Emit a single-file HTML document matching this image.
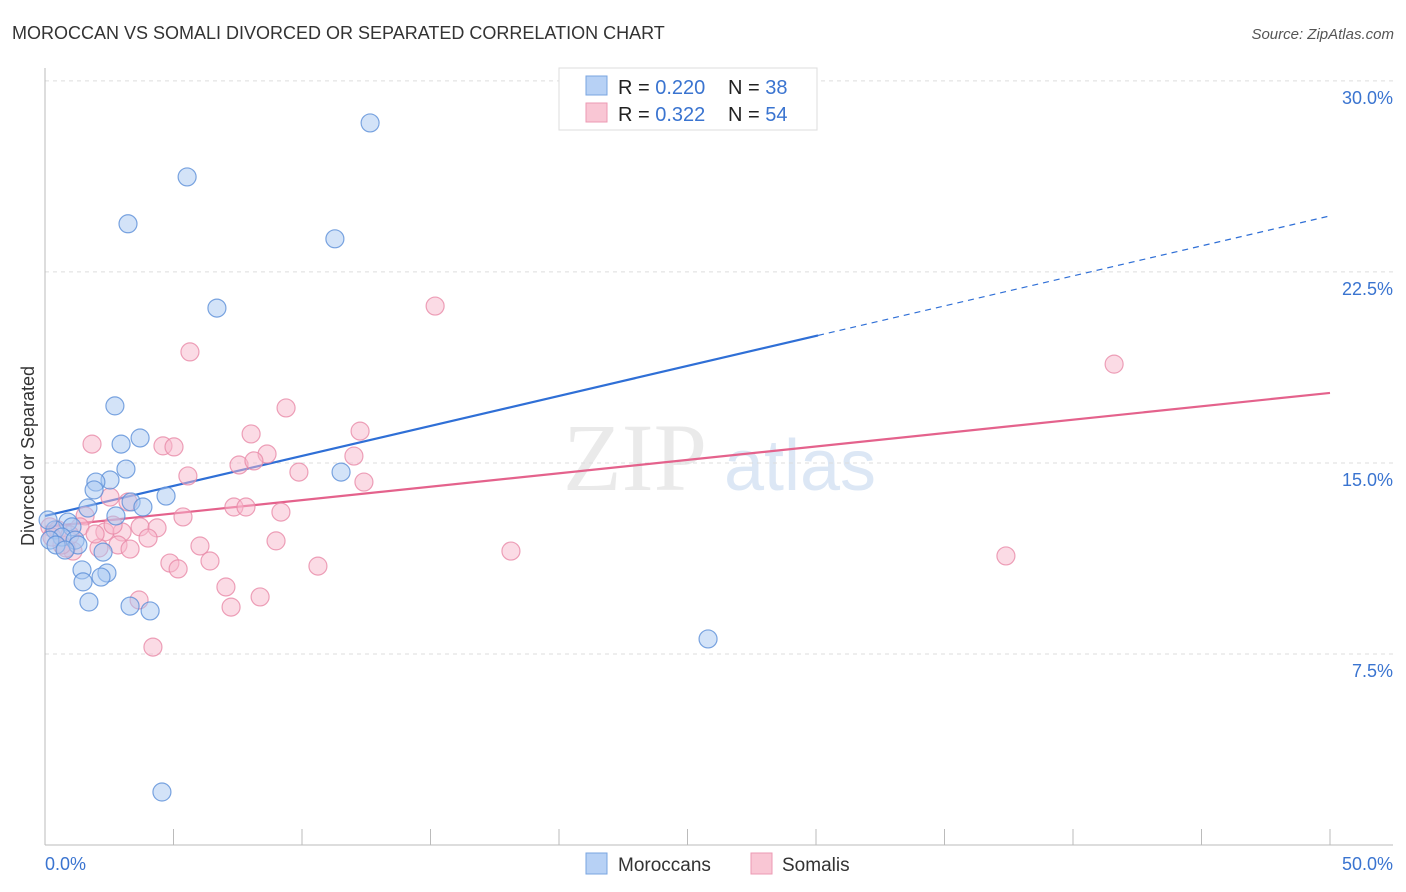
<!DOCTYPE html>
<html><head><meta charset="utf-8"><style>
body{margin:0;background:#fff;font-family:"Liberation Sans",sans-serif;}
svg{display:block}
</style></head><body>
<svg id="chart" width="1406" height="892" xmlns="http://www.w3.org/2000/svg">
<text x="12" y="39" font-size="18" fill="#333">MOROCCAN VS SOMALI DIVORCED OR SEPARATED CORRELATION CHART</text>
<text x="1394" y="39" font-size="15" fill="#555" font-style="italic" text-anchor="end">Source: ZipAtlas.com</text>
<text x="34" y="456" font-size="18" fill="#333" text-anchor="middle" transform="rotate(-90 34 456)">Divorced or Separated</text>
<g>
<text x="635" y="490" font-size="96" fill="#ddd" font-family="Liberation Serif,serif" text-anchor="middle" opacity="0.6">ZIP</text>
<text x="800" y="490" font-size="72" fill="#c5d8f0" text-anchor="middle" opacity="0.6">atlas</text>
</g>
<g id="grid"></g><g id="axes"></g><g id="trends"></g><g id="pts"></g>
<g>
<rect x="559" y="68" width="258" height="62" fill="#fff" stroke="#ddd"/>
<rect x="586" y="76" width="21" height="19" fill="#b7d1f5" stroke="#7aa5e0"/>
<rect x="586" y="103" width="21" height="19" fill="#f9c6d4" stroke="#ec9ab3"/>
<text x="618" y="94" font-size="20" fill="#222">R = <tspan fill="#3a74d0">0.220</tspan><tspan x="728">N = </tspan><tspan fill="#3a74d0">38</tspan></text>
<text x="618" y="121" font-size="20" fill="#222">R = <tspan fill="#3a74d0"> 0.322</tspan><tspan x="728">N = </tspan><tspan fill="#3a74d0">54</tspan></text>
</g>
<g>
<rect x="586" y="853" width="21" height="21" fill="#b7d1f5" stroke="#7aa5e0"/>
<text x="618" y="871" font-size="19" fill="#333">Moroccans</text>
<rect x="751" y="853" width="21" height="21" fill="#f9c6d4" stroke="#ec9ab3"/>
<text x="782" y="871" font-size="19" fill="#333">Somalis</text>
</g>
</svg>
<script>
const yTicks=[7.5,15,22.5,30];
const yTickLabels=["7.5%","15.0%","22.5%","30.0%"];
const xTickLabels=["0.0%","50.0%"];
const moroccanX=[12.65,5.53,3.23,11.28,6.69,2.72,3.70,2.96,3.15,2.53,1.98,1.91,4.71,3.35,3.81,1.67,2.76,0.89,1.05,0.39,0.66,1.17,0.19,0.43,1.28,0.78,2.26,1.44,2.41,1.48,2.18,1.71,3.31,4.09,25.80,4.55,11.52,0.12];
const moroccanY=[28.35,26.23,24.39,23.80,21.08,17.24,15.98,15.74,14.76,14.33,14.25,13.94,13.70,13.47,13.27,13.23,12.92,12.68,12.49,12.37,12.09,11.97,11.97,11.78,11.78,11.58,11.50,10.80,10.68,10.33,10.52,9.54,9.38,9.19,8.09,2.08,14.64,12.76];
const somaliX=[15.18,5.64,41.60,9.38,1.83,4.59,5.02,8.02,12.26,8.64,7.55,8.13,12.02,5.56,9.88,12.41,2.53,3.23,7.35,7.82,5.37,9.18,1.56,3.70,4.36,2.33,3.00,4.01,6.03,8.99,2.84,3.31,2.10,1.09,0.82,18.13,37.39,4.86,6.42,5.18,10.62,7.04,8.37,7.24,3.66,4.20,0.19,0.51,0.66,1.36,0.27,0.97,1.95,2.65];
const somaliY=[21.16,19.36,18.88,17.16,15.74,15.67,15.63,16.14,16.25,15.35,14.92,15.08,15.27,14.49,14.64,14.25,13.66,13.47,13.27,13.27,12.88,13.07,12.92,12.49,12.45,12.29,12.29,12.05,11.74,11.94,11.78,11.62,11.66,11.54,11.66,11.54,11.35,11.07,11.15,10.84,10.95,10.13,9.74,9.34,9.62,7.77,12.49,12.37,11.78,12.49,12.09,12.17,12.21,12.56];
const moroccanTrend=[12.92,24.7];
const somaliTrend=[12.49,17.75];
const moroccanSolidEnd=30.08;

const NS="http://www.w3.org/2000/svg";
const X0=45,X1=1330,Y0=845,PXY=25.47;
const sx=v=>X0+(X1-X0)*v/50;
const sy=v=>Y0-v*PXY;
function mk(tag,attrs,parent){const e=document.createElementNS(NS,tag);for(const k in attrs)e.setAttribute(k,attrs[k]);parent.appendChild(e);return e;}
const grid=document.getElementById('grid'),axes=document.getElementById('axes'),trends=document.getElementById('trends'),pts=document.getElementById('pts');
yTicks.forEach((t,i)=>{
  const l=mk('line',{x1:45,x2:1393,y1:sy(t),y2:sy(t),stroke:'#ddd','stroke-dasharray':'4,4'},grid);
  
  
  const tx=mk('text',{x:1393,y:sy(t)+23,'font-size':18,fill:'#3a74d0','text-anchor':'end'},grid);
  tx.textContent=yTickLabels[i];
  
  
});
let a=mk('line',{x1:45,x2:45,y1:68,y2:845,stroke:'#bbb'},axes);


a=mk('line',{x1:45,x2:1393,y1:845,y2:845,stroke:'#bbb'},axes);


for(let i=0;i<=10;i++){
  const t=mk('line',{x1:sx(i*5),x2:sx(i*5),y1:829,y2:845,stroke:'#bbb'},axes);
  
  
}
[[0,'start',45],[50,'end',1393]].forEach((d,i)=>{
  const t=mk('text',{x:d[2],y:870,'font-size':18,fill:'#3a74d0','text-anchor':d[1]},axes);
  t.textContent=xTickLabels[i];
  
  
});
function dot(x,y,fill,stroke,name){
  const c=mk('circle',{cx:sx(x),cy:sy(y),r:9,fill:fill,'fill-opacity':0.5,stroke:stroke,'stroke-width':1.2,'stroke-opacity':0.8},pts);
  
  
}
somaliX.forEach((x,i)=>dot(x,somaliY[i],'#f7b8cb','#e98aa8','somali-point'));
moroccanX.forEach((x,i)=>dot(x,moroccanY[i],'#a8c8f2','#5b8fd8','moroccan-point'));
const mAt=x=>moroccanTrend[0]+(moroccanTrend[1]-moroccanTrend[0])*x/50;
let tl=mk('line',{x1:sx(0),y1:sy(mAt(0)),x2:sx(moroccanSolidEnd),y2:sy(mAt(moroccanSolidEnd)),stroke:'#2f6fd6','stroke-width':2.2},trends);


tl=mk('line',{x1:sx(moroccanSolidEnd),y1:sy(mAt(moroccanSolidEnd)),x2:sx(50),y2:sy(mAt(50)),stroke:'#2f6fd6','stroke-width':1.2,'stroke-dasharray':'6,5'},trends);


tl=mk('line',{x1:sx(0),y1:sy(somaliTrend[0]),x2:sx(50),y2:sy(somaliTrend[1]),stroke:'#e4628c','stroke-width':2.2},trends);


</script>
</body></html>
